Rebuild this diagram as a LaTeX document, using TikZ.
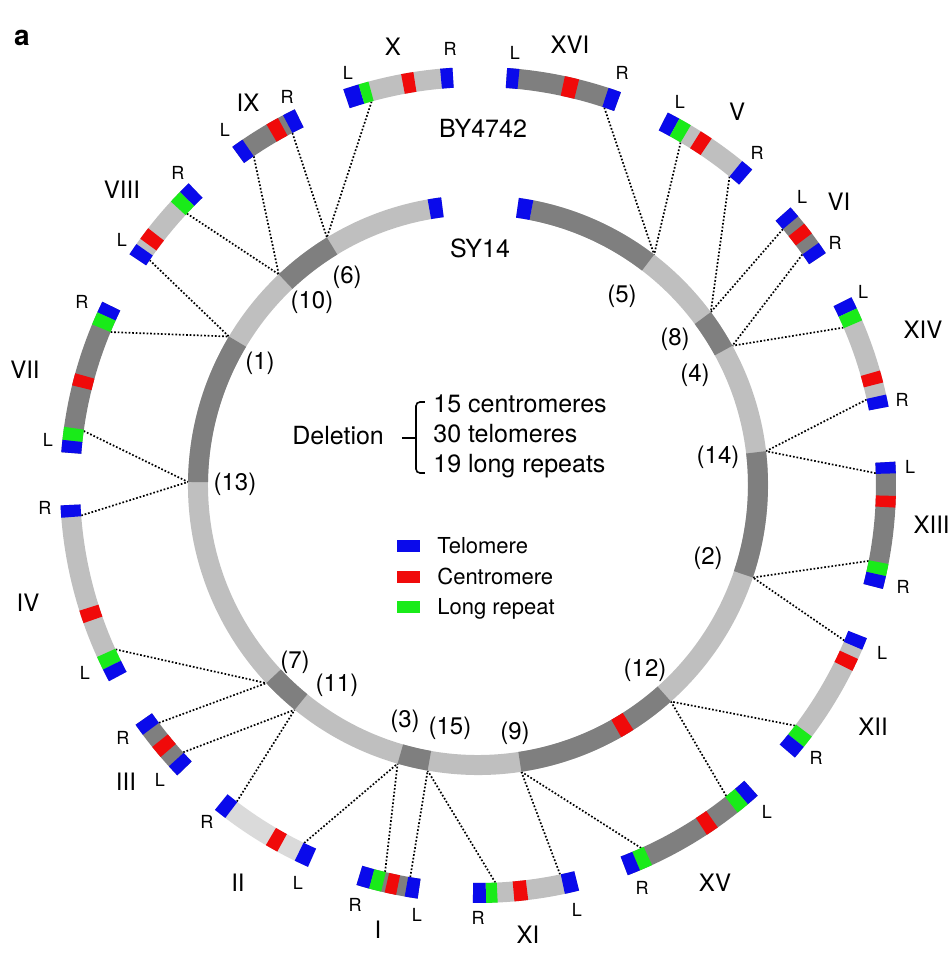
\documentclass[tikz,border=0pt]{standalone}
\usepackage{fontspec}
\setmainfont{TeX Gyre Heros}
\usepackage{xcolor}

% one coloured piece of a ring, #2 to #3 degrees, centred on radius #4
\newcommand\piece[4]{%
	\pgfmathsetmacro\rin{#4-\hw}%
	\pgfmathsetmacro\rout{#4+\hw}%
	\fill[fill=#1] (#2:\rin) arc (#2:#3:\rin) -- (#3:\rout) arc (#3:#2:\rout) -- cycle;%
}

\begin{document}
\begin{tikzpicture}[x=0.5pt,y=0.5pt,
	link/.style={line width=0.85pt, dash pattern=on 0.85pt off 0.95pt},
	num/.style={font=\fontsize{12}{14}\selectfont},
	chrname/.style={font=\fontsize{12}{14}\selectfont},
	endlab/.style={font=\fontsize{9}{11}\selectfont},
	maintext/.style={font=\fontsize{12.5}{15}\selectfont},
	swatch/.style={minimum width=11.5pt, minimum height=6pt, inner sep=0pt}]
				% Colors
				\definecolor{tel}{RGB}{10,10,235}
				\definecolor{cen}{RGB}{240,10,10}
				\definecolor{rep}{RGB}{25,235,25}
				\definecolor{dark}{RGB}{127,127,127}
				\definecolor{light}{RGB}{191,191,191}
				\definecolor{pale}{RGB}{218,218,218}

				\def\hw{10} % half width of a band
				\def\rring{280}
				\def\rchr{408}

				\useasboundingbox (-478,-473) rectangle (474,485);

				\node[font=\bfseries\fontsize{14}{16}\selectfont] (panel) at (-456,447) {a};

				% fusion points on SY14
				\foreach \n/\a in {1/149.2, 2/-18.6, 3/-106.1, 4/28.7, 5/52.6, 6/121.4, 7/-136.9, 8/36.6,
						9/-81.4, 10/133.4, 11/-129.2, 12/-48.3, 13/179.4, 14/6.7, 15/-100}
				{
				  \coordinate (f\n) at (\a:\rring+\hw);
				}

				% dotted links to the BY4742 chromosome ends
				\foreach \c/\s/\a/\n in {X/L/105.5/6, IX/R/117.8/6, IX/L/124.3/10, VIII/R/137/10,
						VIII/L/145.6/1, VII/R/157.4/1, VII/L/172.2/13, IV/R/184.4/13, IV/L/204.4/7,
						III/R/-143.3/7, III/L/-137.8/11, II/R/-127.3/11, II/L/-115.9/3, I/R/-103.5/3,
						I/L/-99.8/15, XI/R/-87.5/15, XI/L/-78.1/9, XV/R/-65.8/9, XV/L/-51.4/12,
						XII/R/-37.2/12, XII/L/-23/2, XIII/R/-11/2, XIII/L/1.7/14, XIV/R/12.4/14,
						XIV/L/23.3/4, VI/R/35.4/4, VI/L/40/8, V/R/50.8/8, V/L/59.4/5, XVI/R/71.5/5}
				{
				  \coordinate (\c-\s) at (\a:\rchr-\hw);
				  \draw[link] (\c-\s) -- (f\n);
				}

				% SY14
				\piece{light}{97.3}{441.9}{\rring}
				\foreach \a/\b in {52.6/79, 28.7/36.6, -18.6/6.7, -81.4/-48.3, -106.1/-100,
						-136.9/-129.2, 149.2/179.4, 121.4/133.4}
				{
				  \piece{dark}{\a}{\b}{\rring}
				}
				\piece{tel}{97.3}{100}{\rring}
				\piece{tel}{79}{81.9}{\rring}
				\piece{cen}{-60.4}{-57.6}{\rring}

				% BY4742, body first then the marks
				\foreach \c/\a/\b in {
						light/93.5/108.8, tel/106.6/108.8, rep/105.2/106.6, cen/98.9/100.6, tel/93.5/95.2,
						dark/70/86, tel/84.3/86, cen/76/78, tel/70/71.8,
						light/49/63, tel/61.2/63, rep/59.4/61.2, cen/56/57.8, tel/49/50.8,
						dark/33.7/41.6, tel/40/41.6, cen/37/38.7, tel/33.7/35.4,
						light/10.8/26.7, tel/25/26.7, rep/23.2/25, cen/14.2/15.9, tel/10.8/12.5,
						dark/-14.4/3.2, tel/1.6/3.2, cen/-3.1/-1.5, rep/-12.6/-10.9, tel/-14.4/-12.6,
						light/-40.7/-21.5, tel/-23.2/-21.5, cen/-26.4/-24.6, rep/-38.8/-37, tel/-40.7/-38.8,
						dark/-69/-48, tel/-49.8/-48, rep/-51.6/-49.8, cen/-56.8/-55, rep/-67.2/-65.4, tel/-69/-67.2,
						light/-90.7/-76, tel/-78/-76, cen/-85/-83.1, rep/-88.9/-87.3, tel/-90.7/-88.9,
						dark/-106.9/-98.3, tel/-106.9/-105.1, rep/-105.1/-103.4, cen/-102.9/-101.3, tel/-100.1/-98.3,
						pale/-129/-114, tel/-129/-127.2, cen/-120.5/-118.7, tel/-116/-114,
						dark/-145/-136, tel/-145/-143.3, cen/-141.2/-139.4, tel/-137.7/-136,
						light/182.8/208, tel/182.8/184.5, cen/197.5/199.3, rep/204.3/206.2, tel/206.2/208,
						dark/154/175.5, tel/154/155.6, rep/155.6/157.4, cen/164.5/166.2, rep/172/173.8, tel/173.8/175.5,
						light/133.8/146.5, tel/133.8/135.5, rep/135.5/137.3, cen/142.1/143.9, tel/144.8/146.5,
						dark/116/126, tel/116/117.8, cen/118.6/120.4, tel/124.3/126}
				{
				  \piece{\c}{\a}{\b}{\rchr}
				}

				% chromosome names
				\foreach \c/\x/\y in {X/-85/438, XVI/92/440, V/259/373, VI/361/283, XIV/445/155,
						XII/395/-242, XV/237/-398, XI/50/-450, I/-100/-445, II/-240/-398,
						III/-352/-297, IV/-450/-118, VII/-453/115, VIII/-356/295, IX/-230/382}
				{
				  \node[chrname] (name\c) at (\x,\y) {\c};
				}
				\node[chrname, anchor=east, inner sep=0pt] (nameXIII) at (472,-40) {XIII};

				% arm ends
				\foreach \c/\lx/\ly/\rx/\ry in {X/-130/412/-28/436, XVI/37/432/144/412, V/202/383/279/332,
						VI/324/288/357/242, XIV/385/193/424/85, XIII/432/18/425/-102,
						XII/404/-168/338/-273, XV/289/-327/164/-403, XI/99/-425/0/-433,
						I/-61/-430/-123/-420, II/-180/-398/-271/-337, III/-318/-295/-355/-253,
						IV/-393/-188/-433/-23, VII/-430/45/-396/183, VIII/-356/245/-300/312,
						IX/-253/355/-191/388}
				{
				  \node[endlab] (\c-Lt) at (\lx,\ly) {L};
				  \node[endlab] (\c-Rt) at (\rx,\ry) {R};
				}

				% fusion numbers
				\foreach \n/\x/\y in {1/-218/122, 2/230/-73, 3/-73/-236, 4/217/110, 5/144/189,
						6/-131/208, 7/-183/-177, 8/197/146, 9/37/-248, 10/-166/183,
						11/-141/-200, 12/167/-185, 13/-243/1, 14/240/28, 15/-28/-243}
				{
				  \node[num] (n\n) at (\x,\y) {(\n)};
				}

				\node[maintext] (by) at (5,357) {BY4742};
				\node[maintext] (sy) at (2,237) {SY14};

				% deletion summary
				\node[maintext, anchor=base west, inner sep=0pt] (del) at (-186,40) {Deletion};
				\draw[line width=0.8pt, rounded corners=2pt] (-53,83) -- (-62,83) -- (-62,12) -- (-53,12);
				\draw[line width=0.8pt] (-76,47) -- (-62,47);
				\node[maintext, anchor=base west, inner sep=0pt] (delcen) at (-45,72) {15 centromeres};
				\node[maintext, anchor=base west, inner sep=0pt] (deltel) at (-45,42) {30 telomeres};
				\node[maintext, anchor=base west, inner sep=0pt] (delrep) at (-45,12) {19 long repeats};

				% legend
				\foreach \c/\t/\y in {tel/Telomere/-68, cen/Centromere/-99, rep/Long repeat/-129}
				{
				  \node[swatch, fill=\c] (sw\c) at (-69.5,\y+7) {};
				  \node[font=\fontsize{11}{13}\selectfont, anchor=base west, inner sep=0pt] (key\c) at (-41,\y) {\t};
				}

\end{tikzpicture}
\end{document}
